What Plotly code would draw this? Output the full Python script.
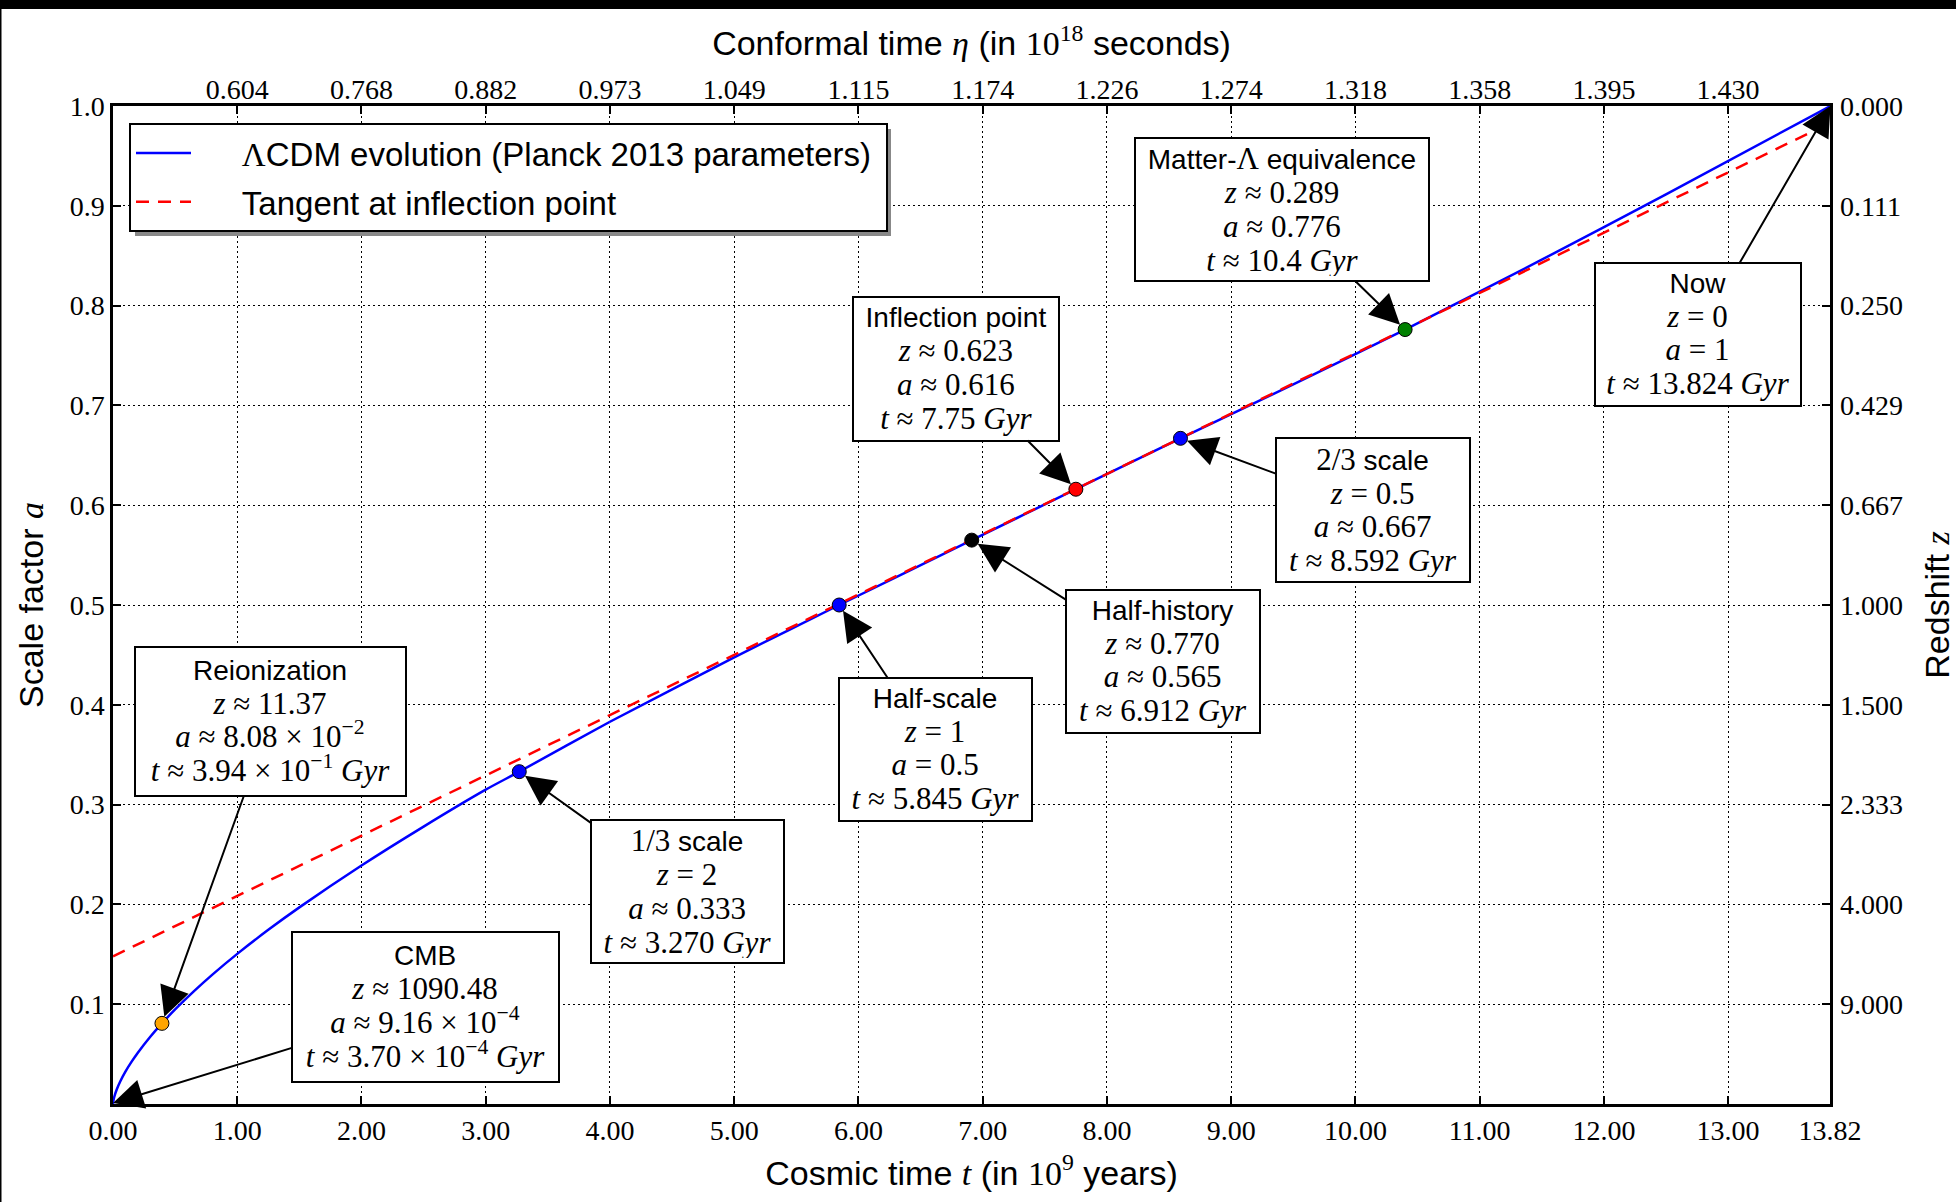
import plotly.graph_objects as go

# ---------------- data ----------------
# Lambda-CDM scale factor a versus cosmic time t (Gyr)
curve_t = [0.0, 0.00037, 0.01, 0.03, 0.06, 0.1, 0.15, 0.2, 0.3, 0.394, 0.5, 0.65, 0.8,
           1.0, 1.25, 1.5, 2.0, 2.5, 3.0, 3.27, 4.0, 5.0, 5.845, 6.912, 7.75, 8.592,
           9.5, 10.4, 11.5, 12.5, 13.824]
curve_a = [0.0, 0.000916, 0.0070, 0.0145, 0.0230, 0.0324, 0.0424, 0.0514, 0.0674, 0.0808,
           0.0947, 0.1128, 0.1296, 0.1504, 0.1745, 0.197, 0.239, 0.278, 0.315, 0.333,
           0.383, 0.4475, 0.5, 0.565, 0.616, 0.667, 0.721, 0.776, 0.846, 0.9115, 1.0]

# tangent at the inflection point
tangent_t = [0.0, 13.82]
tangent_a = [0.148, 0.983]

# highlighted events
event_names = ["Reionization", "CMB", "1/3 scale", "Half-scale", "Half-history",
               "Inflection point", "2/3 scale", "Matter-Λ equivalence", "Now"]
event_t = [0.394, 0.00037, 3.270, 5.845, 6.912, 7.75, 8.592, 10.4, 13.824]
event_a = [0.0808, 0.000916, 0.333, 0.5, 0.565, 0.616, 0.667, 0.776, 1.0]
event_z_txt = ["≈ 11.37", "≈ 1090.48", "= 2", "= 1", "≈ 0.770", "≈ 0.623", "= 0.5", "≈ 0.289", "= 0"]
event_a_txt = ["≈ 8.08 × 10<sup>−2</sup>", "≈ 9.16 × 10<sup>−4</sup>", "≈ 0.333", "= 0.5",
               "≈ 0.565", "≈ 0.616", "≈ 0.667", "≈ 0.776", "= 1"]
event_t_txt = ["≈ 3.94 × 10<sup>−1</sup>", "≈ 3.70 × 10<sup>−4</sup>", "≈ 3.270", "≈ 5.845",
               "≈ 6.912", "≈ 7.75", "≈ 8.592", "≈ 10.4", "≈ 13.824"]
event_marker = [True, False, True, True, True, True, True, True, False]

# axis ticks
bottom_tickvals = [0, 1, 2, 3, 4, 5, 6, 7, 8, 9, 10, 11, 12, 13, 13.82]
bottom_ticktext = ["0.00", "1.00", "2.00", "3.00", "4.00", "5.00", "6.00", "7.00", "8.00",
                   "9.00", "10.00", "11.00", "12.00", "13.00", "13.82"]
top_tickvals = [1, 2, 3, 4, 5, 6, 7, 8, 9, 10, 11, 12, 13]
top_ticktext = ["0.604", "0.768", "0.882", "0.973", "1.049", "1.115", "1.174", "1.226",
                "1.274", "1.318", "1.358", "1.395", "1.430"]
left_tickvals = [0.1, 0.2, 0.3, 0.4, 0.5, 0.6, 0.7, 0.8, 0.9, 1.0]
left_ticktext = ["0.1", "0.2", "0.3", "0.4", "0.5", "0.6", "0.7", "0.8", "0.9", "1.0"]
right_ticktext = ["9.000", "4.000", "2.333", "1.500", "1.000", "0.667", "0.429", "0.250",
                  "0.111", "0.000"]

# ---------------- styling / layout config ----------------
marker_colors = ["orange", "black", "blue", "blue", "black", "red", "blue", "green", "black"]
box_center_t = [1.268, 2.514, 4.623, 6.620, 8.453, 6.786, 10.140, 9.407, 12.76]
box_center_a = [0.383, 0.0975, 0.2125, 0.355, 0.4438, 0.7369, 0.5956, 0.8962, 0.7712]
box_outer_w = [273, 269, 195, 195, 196, 208, 196, 296, 208]
box_outer_h = [151, 152, 145, 145, 145, 146, 146, 145, 145]

W, H = 1956, 1202
ML, MR, MT, MB = 113, 126, 106, 98
PW, PH = W - ML - MR, H - MT - MB

SANS = "Liberation Sans"
SERIF = "Liberation Serif"
NB = "\u00a0"


def serif(s, size=None):
    st = f"font-family:{SERIF}"
    if size:
        st += f";font-size:{size}px"
    return f'<span style="{st}">{s}</span>'


def sans(s, size):
    return f'<span style="font-family:{SANS};font-size:{size}px">{s}</span>'


def px_x(p):
    return (p - ML) / PW


def px_y(p):
    return (H - MB - p) / PH


fig = go.Figure()

fig.add_trace(go.Scatter(
    x=curve_t, y=curve_a, mode="lines", line=dict(color="#0000ff", width=2.5, shape="spline", smoothing=0.6),
    name=NB * 5 + serif("Λ") + "CDM evolution (Planck 2013 parameters)" + NB, legendgroup="g1"))
fig.add_trace(go.Scatter(
    x=tangent_t, y=tangent_a, mode="lines", line=dict(color="#ff0000", width=2.5, dash="13px,9px"),
    name=NB * 5 + "Tangent at inflection point", legendgroup="g2"))

mx = [t for t, m in zip(event_t, event_marker) if m]
my = [a for a, m in zip(event_a, event_marker) if m]
mc = [c for c, m in zip(marker_colors, event_marker) if m]
fig.add_trace(go.Scatter(
    x=mx, y=my, mode="markers", showlegend=False, cliponaxis=False,
    marker=dict(size=14, color=mc, line=dict(color="black", width=1))))

# annotation boxes with arrows
for i, name in enumerate(event_names):
    title = name
    if name.startswith("1/3") or name.startswith("2/3"):
        title = serif(name[:3], 31) + name[3:]
    title = title.replace("Λ", serif("Λ", 31))
    lines = [
        sans(title, 28),
        serif(f"<i>z</i> {event_z_txt[i]}", 31),
        serif(f"<i>a</i> {event_a_txt[i]}", 31),
        serif(f"<i>t</i> {event_t_txt[i]} <i>Gyr</i>", 31),
    ]
    bp, bw = 4, 2
    fig.add_annotation(
        x=event_t[i], y=event_a[i], xref="x", yref="y",
        ax=box_center_t[i], ay=box_center_a[i], axref="x", ayref="y",
        text="<br>".join(lines), showarrow=True,
        arrowhead=2, arrowsize=3.0, arrowwidth=2, arrowcolor="black",
        standoff=7 if event_marker[i] else 0,
        bgcolor="white", bordercolor="black", borderwidth=bw, borderpad=bp,
        width=box_outer_w[i] - 2 * (bp + bw), height=box_outer_h[i] - 2 * (bp + bw),
        align="center", valign="middle",
        font=dict(family=SANS, size=26, color="black"))

# black strip at the top of the picture and thin dark left edge
fig.add_shape(type="rect", xref="paper", yref="paper",
              x0=px_x(-5), x1=px_x(W + 5), y0=px_y(9), y1=px_y(-5),
              fillcolor="black", line=dict(width=0), layer="above")
fig.add_shape(type="rect", xref="paper", yref="paper",
              x0=px_x(-5), x1=px_x(1.5), y0=px_y(H + 5), y1=px_y(-5),
              fillcolor="black", line=dict(width=0), layer="above")
# legend shadow
fig.add_shape(type="rect", xref="paper", yref="paper",
              x0=px_x(135), x1=px_x(891), y0=px_y(236), y1=px_y(129),
              fillcolor="#888888", line=dict(width=0), layer="above")

tickfont = dict(family=SERIF, size=28, color="black")
titlefont = dict(family=SANS, size=34, color="black")
GRIDDASH = "1.5px,3.5px"

fig.update_layout(
    width=W, height=H,
    margin=dict(l=ML, r=MR, t=MT, b=MB, autoexpand=False),
    paper_bgcolor="white", plot_bgcolor="white",
    showlegend=True,
    legend=dict(x=px_x(129), y=px_y(123), xanchor="left", yanchor="top",
                bgcolor="white", bordercolor="black", borderwidth=2,
                font=dict(family=SANS, size=33, color="black"),
                tracegroupgap=3, itemwidth=55, traceorder="grouped"),
    xaxis=dict(range=[0, 13.82], tickvals=bottom_tickvals, ticktext=bottom_ticktext,
               showgrid=True, gridcolor="black", griddash=GRIDDASH, gridwidth=1.2,
               showline=True, linecolor="black", linewidth=2.5, mirror=True,
               ticks="inside", ticklen=8, tickwidth=1.5, tickcolor="black",
               tickfont=tickfont, zeroline=False,
               title=dict(text="Cosmic time " + serif("<i>t</i>") + " (in " + serif("10<sup>9</sup>") + " years)",
                          font=titlefont, standoff=16)),
    xaxis2=dict(range=[0, 13.82], overlaying="x", side="top", tickvals=top_tickvals,
                ticktext=top_ticktext, showgrid=False, zeroline=False,
                ticks="inside", ticklen=8, tickwidth=1.5, tickcolor="black",
                tickfont=tickfont, showline=False,
                title=dict(text="Conformal time " + serif("<i>η</i>") + " (in " + serif("10<sup>18</sup>") + " seconds)",
                           font=titlefont, standoff=8)),
    yaxis=dict(range=[0, 1], tickvals=left_tickvals, ticktext=left_ticktext,
               showgrid=True, gridcolor="black", griddash=GRIDDASH, gridwidth=1.2,
               showline=True, linecolor="black", linewidth=2.5, mirror=True,
               ticks="inside", ticklen=8, tickwidth=1.5, tickcolor="black",
               tickfont=tickfont, zeroline=False,
               title=dict(text="Scale factor " + serif("<i>a</i>"), font=titlefont, standoff=16)),
    yaxis2=dict(range=[0, 1], overlaying="y", side="right", anchor="x",
                tickvals=left_tickvals, ticktext=right_ticktext,
                showgrid=False, zeroline=False, showline=False,
                ticks="inside", ticklen=8, tickwidth=1.5, tickcolor="black",
                tickfont=tickfont, ticklabelstandoff=9,
                title=dict(text="Redshift " + serif("<i>z</i>"), font=titlefont, standoff=34)),
)

# dummy trace so that the secondary axes are drawn
fig.add_trace(go.Scatter(x=[None], y=[None], xaxis="x2", yaxis="y2", showlegend=False,
                         hoverinfo="skip"))

fig.write_html("out.html")
